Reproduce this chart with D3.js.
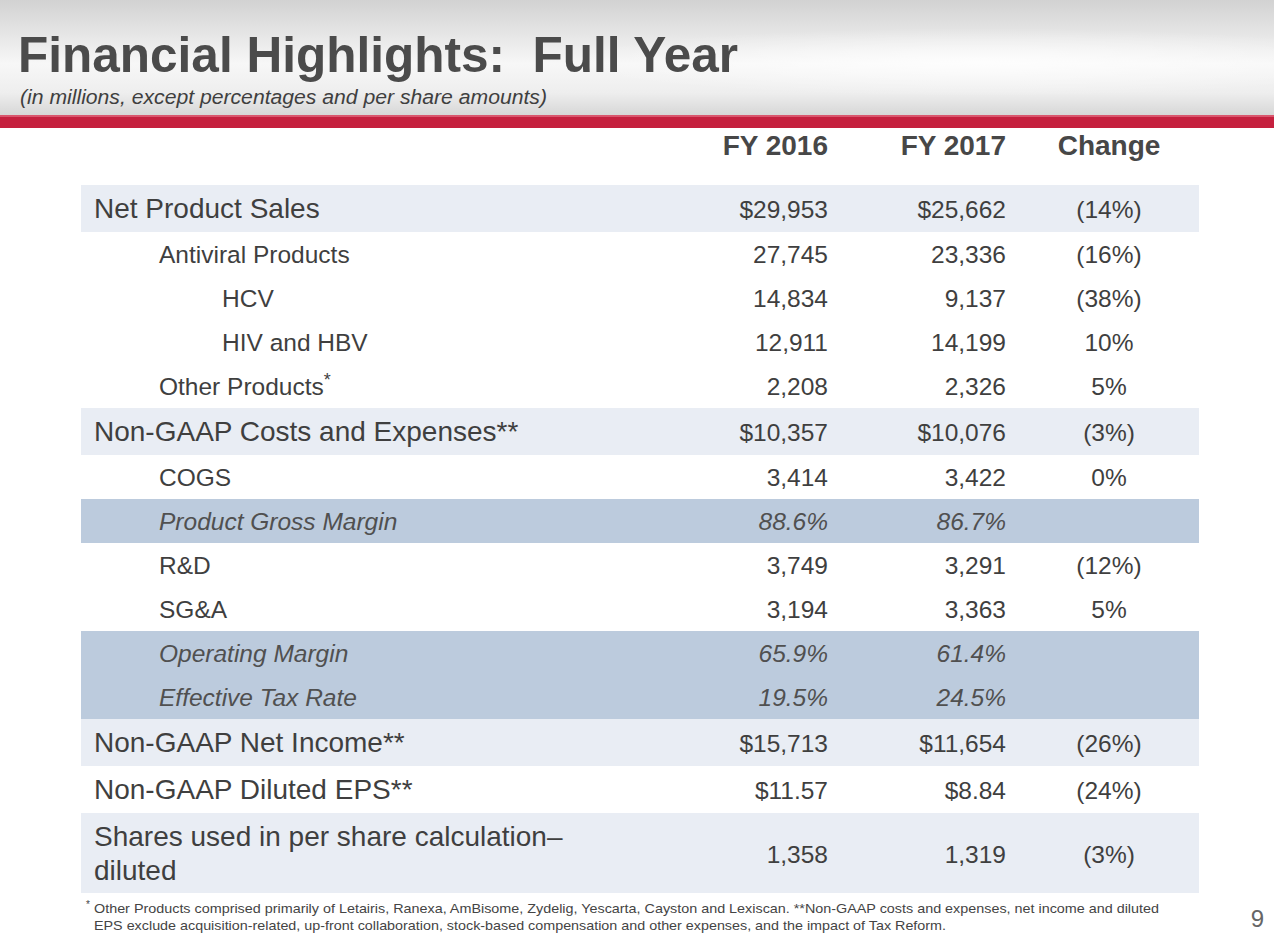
<!DOCTYPE html>
<html>
<head>
<meta charset="utf-8">
<script src="https://cdn.jsdelivr.net/npm/d3@7"></script>
<style>
  body { margin: 0; background: #fff; }
  svg { display: block; font-family: "Liberation Sans", Arial, sans-serif; }
</style>
</head>
<body>
<div id="slide"></div>
<script>
// table contents
const columns = ["FY 2016", "FY 2017", "Change"];
const rowLabels = [
    "Net Product Sales", "Antiviral Products", "HCV", "HIV and HBV", "Other Products",
    "Non-GAAP Costs and Expenses**", "COGS", "Product Gross Margin", "R&D", "SG&A",
    "Operating Margin", "Effective Tax Rate", "Non-GAAP Net Income**",
    "Non-GAAP Diluted EPS**", "Shares used in per share calculation–|diluted"
];
const fy2016 = ["$29,953", "27,745", "14,834", "12,911", "2,208", "$10,357", "3,414", "88.6%",
    "3,749", "3,194", "65.9%", "19.5%", "$15,713", "$11.57", "1,358"];
const fy2017 = ["$25,662", "23,336", "9,137", "14,199", "2,326", "$10,076", "3,422", "86.7%",
    "3,291", "3,363", "61.4%", "24.5%", "$11,654", "$8.84", "1,319"];
const changes = ["(14%)", "(16%)", "(38%)", "10%", "5%", "(3%)", "0%", "",
    "(12%)", "5%", "", "", "(26%)", "(24%)", "(3%)"];
const rowLevel = [0, 1, 2, 2, 1, 0, 1, 1, 1, 1, 1, 1, 0, 0, 0];
const rowShade = ["light", "none", "none", "none", "none", "light", "none", "dark",
    "none", "none", "dark", "dark", "light", "none", "light"];
const rowNote = ["", "", "", "", "*", "", "", "", "", "", "", "", "", "", ""];
const footnotes = [
    "Other Products comprised primarily of Letairis, Ranexa, AmBisome, Zydelig, Yescarta, Cayston and Lexiscan. **Non-GAAP costs and expenses, net income and diluted",
    "EPS exclude acquisition-related, up-front collaboration, stock-based compensation and other expenses, and the impact of Tax Reform."
];

const w = 1274, h = 936;
const tableLeft = 81, tableRight = 1199, tableTop = 185;
const textColor = "#3f3f3f";

const svg = d3.select("#slide").append("svg")
    .attr("width", w)
    .attr("height", h);

// header background
const defs = svg.append("defs");
const grad = defs.append("linearGradient")
    .attr("id", "hdr").attr("x1", 0).attr("y1", 0).attr("x2", 0).attr("y2", 1);
[[0, "#d2d2d2"], [0.3, "#e6e6e6"], [0.55, "#f7f7f7"], [0.8, "#eeeeee"], [1, "#d6d6d6"]]
    .forEach(function (s) {
        grad.append("stop").attr("offset", s[0]).attr("stop-color", s[1]);
    });
const shine = defs.append("radialGradient").attr("id", "shine")
    .attr("cx", 0.5).attr("cy", 0.5).attr("r", 0.5);
shine.append("stop").attr("offset", 0).attr("stop-color", "#fff").attr("stop-opacity", 0.8);
shine.append("stop").attr("offset", 1).attr("stop-color", "#fff").attr("stop-opacity", 0);

svg.append("rect").attr("x", 0).attr("y", 0).attr("width", w).attr("height", 116)
    .attr("fill", "url(#hdr)");
svg.append("ellipse").attr("cx", 980).attr("cy", 62).attr("rx", 420).attr("ry", 34)
    .attr("fill", "url(#shine)");
svg.append("rect").attr("x", 0).attr("y", 115).attr("width", w).attr("height", 13)
    .attr("fill", "#c5203e");
svg.append("rect").attr("x", 0).attr("y", 115).attr("width", w).attr("height", 2)
    .attr("fill", "#d9566d");

svg.append("text")
    .attr("x", 18).attr("y", 72)
    .attr("font-size", 50).attr("font-weight", "bold")
    .attr("fill", "#4b4b4b")
    .attr("textLength", 720).attr("lengthAdjust", "spacingAndGlyphs")
    .style("white-space", "pre")
    .text("Financial Highlights:  Full Year");
svg.append("text")
    .attr("x", 20).attr("y", 104)
    .attr("font-size", 20).attr("font-style", "italic")
    .attr("fill", "#3f3f3f")
    .attr("textLength", 527).attr("lengthAdjust", "spacingAndGlyphs")
    .text("(in millions, except percentages and per share amounts)");

// row geometry: heights by level, cumulative for y
const rowHeight = rowLabels.map(function (d, i) {
    if (d.indexOf("|") >= 0) return 80;
    return rowLevel[i] === 0 ? 47 : 44;
});
const rowTop = rowHeight.map(function (d, i) {
    return tableTop + d3.sum(rowHeight.slice(0, i));
});

const xCol = d3.scaleOrdinal().domain(columns).range([828, 1006, 1109]);
const anchorCol = d3.scaleOrdinal().domain(columns).range(["end", "end", "middle"]);
const xIndent = d3.scaleOrdinal().domain([0, 1, 2]).range([94, 159, 222]);
const shadeColor = d3.scaleOrdinal().domain(["light", "dark", "none"])
    .range(["#e9edf4", "#bccbdd", "none"]);

// column headers
svg.selectAll("text.colhead")
    .data(columns)
    .enter()
    .append("text")
    .attr("class", "colhead")
    .attr("x", function (d) { return xCol(d); })
    .attr("y", 155)
    .attr("text-anchor", function (d) { return anchorCol(d); })
    .attr("font-size", 28).attr("font-weight", "bold")
    .attr("fill", "#474747")
    .text(function (d) { return d; });

const rows = svg.selectAll("g.row")
    .data(rowLabels.map(function (d, i) { return i; }))
    .enter()
    .append("g")
    .attr("class", "row")
    .attr("transform", function (i) { return "translate(0," + rowTop[i] + ")"; });

rows.append("rect")
    .attr("x", tableLeft)
    .attr("width", tableRight - tableLeft)
    .attr("height", function (i) { return rowHeight[i]; })
    .attr("fill", function (i) { return shadeColor(rowShade[i]); });

// labels
const labels = rows.append("text")
    .attr("x", function (i) { return xIndent(rowLevel[i]); })
    .attr("y", function (i) { return rowHeight[i] === 80 ? 33 : Math.round(rowHeight[i] * 0.7); })
    .attr("font-size", function (i) { return rowLevel[i] === 0 ? 28 : 24.5; })
    .attr("font-style", function (i) { return rowShade[i] === "dark" ? "italic" : null; })
    .attr("fill", function (i) { return rowShade[i] === "dark" ? "#505050" : textColor; });
labels.each(function (i) {
    const parts = rowLabels[i].split("|");
    const t = d3.select(this);
    parts.forEach(function (p, k) {
        t.append("tspan")
            .attr("x", xIndent(rowLevel[i]))
            .attr("dy", k === 0 ? 0 : 34)
            .text(p);
    });
    if (rowNote[i]) {
        t.append("tspan").attr("dy", -9).attr("font-size", 18).text(rowNote[i]);
    }
});

// values
const valueCols = [fy2016, fy2017, changes];
columns.forEach(function (c, k) {
    rows.append("text")
        .attr("x", xCol(c))
        .attr("y", function (i) { return rowHeight[i] === 80 ? 50 : Math.round(rowHeight[i] * 0.7); })
        .attr("text-anchor", anchorCol(c))
        .attr("font-size", 24.5)
        .attr("font-style", function (i) { return rowShade[i] === "dark" ? "italic" : null; })
        .attr("fill", function (i) { return rowShade[i] === "dark" ? "#505050" : textColor; })
        .text(function (i) { return valueCols[k][i]; });
});

// footnote
const fn = svg.append("g").attr("fill", "#444").attr("font-size", 13.5);
fn.append("text").attr("x", 86).attr("y", 908).attr("font-size", 10).text("*");
fn.selectAll("text.fn")
    .data(footnotes)
    .enter()
    .append("text")
    .attr("class", "fn")
    .attr("x", 94)
    .attr("y", function (d, i) { return 913 + i * 17; })
    .attr("textLength", function (d, i) { return i === 0 ? 1065 : 852; })
    .attr("lengthAdjust", "spacingAndGlyphs")
    .text(function (d) { return d; });

svg.append("text")
    .attr("x", 1264).attr("y", 927)
    .attr("text-anchor", "end")
    .attr("font-size", 24)
    .attr("fill", "#666")
    .text("9");
</script>
</body>
</html>
